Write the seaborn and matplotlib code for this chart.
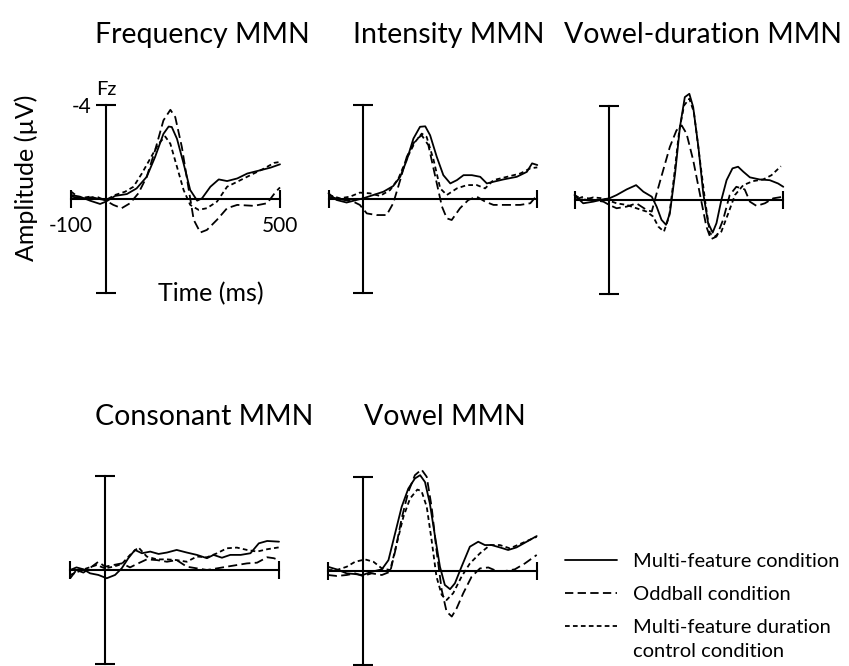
import numpy as np
import pandas as pd
import matplotlib
matplotlib.use("Agg")
import matplotlib.pyplot as plt
from matplotlib.lines import Line2D
import seaborn as sns

# ---------------------------------------------------------------------------
# Grand-average ERPs at Fz (amplitude in microvolts, time in ms)
# ---------------------------------------------------------------------------
CONDITIONS = ["Multi-feature condition", "Oddball condition",
              "Multi-feature duration control condition"]

# Frequency MMN
FREQ_T_MF = [-100, -75, -46, -17, 0, 26, 60, 88, 117, 141, 165, 180, 189, 204, 223, 242, 262, 276, 300, 324, 348, 377, 406, 444, 473, 500]
FREQ_V_MF = [-0.17, -0.10, 0.07, 0.21, 0.11, -0.13, -0.21, -0.45, -0.94, -1.78, -2.76, -3.07, -3.05, -2.55, -1.50, -0.38, 0.07, -0.03, -0.52, -0.83, -0.76, -0.87, -1.08, -1.22, -1.33, -1.47]
FREQ_T_OB = [-100, -65, -27, 0, 21, 45, 69, 93, 117, 141, 165, 185, 199, 218, 238, 252, 271, 290, 319, 348, 377, 425, 463, 488, 500]
FREQ_V_OB = [-0.10, -0.03, -0.10, 0.07, 0.25, 0.39, 0.18, -0.24, -0.94, -2.06, -3.33, -3.78, -3.47, -2.20, -0.38, 0.88, 1.42, 1.31, 0.88, 0.39, 0.25, 0.29, 0.18, -0.31, -0.49]
FREQ_T_DC = [-100, -75, -46, -17, 0, 26, 55, 79, 103, 127, 151, 170, 185, 204, 223, 242, 266, 290, 319, 348, 377, 415, 454, 483, 500]
FREQ_V_DC = [-0.31, -0.03, -0.10, 0.01, 0.04, -0.17, -0.31, -0.52, -1.08, -1.71, -2.34, -2.65, -2.34, -1.36, -0.38, 0.25, 0.46, 0.39, 0.11, -0.52, -0.73, -1.01, -1.29, -1.53, -1.57]

# Intensity MMN
INT_T_MF = [-100, -77, -48, -19, 0, 29, 58, 86, 106, 125, 144, 163, 178, 192, 211, 230, 250, 269, 288, 312, 336, 355, 374, 403, 441, 470, 485, 500]
INT_V_MF = [-0.24, 0.04, 0.15, 0.04, -0.03, -0.17, -0.31, -0.55, -0.94, -1.65, -2.56, -3.06, -3.08, -2.70, -1.79, -1.01, -0.66, -0.80, -1.01, -1.01, -0.94, -0.66, -0.73, -0.83, -0.94, -1.15, -1.51, -1.44]
INT_T_OB = [-100, -67, -29, -10, 10, 38, 67, 86, 106, 125, 149, 168, 187, 207, 226, 240, 254, 278, 302, 326, 350, 374, 413, 451, 480, 500]
INT_V_OB = [-0.10, 0.01, 0.11, 0.25, 0.61, 0.68, 0.68, 0.18, -0.80, -1.79, -2.49, -2.70, -2.28, -0.94, 0.32, 0.82, 0.89, 0.39, 0.04, -0.10, 0.11, 0.25, 0.25, 0.25, 0.18, -0.17]
INT_T_DC = [-100, -67, -38, -10, 19, 48, 77, 101, 125, 149, 168, 182, 202, 221, 240, 269, 298, 326, 350, 374, 413, 451, 480, 500]
INT_V_DC = [-0.17, -0.03, -0.10, -0.27, -0.24, -0.13, -0.38, -0.87, -1.72, -2.42, -2.77, -2.63, -1.65, -0.45, -0.17, -0.45, -0.59, -0.59, -0.45, -0.80, -0.94, -1.08, -1.30, -1.34]

# Vowel-duration MMN
DUR_T_MF = [-100, -75, -46, -17, 0, 21, 50, 77, 98, 122, 136, 150, 163, 174, 189, 203, 217, 230, 241, 256, 270, 284, 297, 308, 322, 337, 354, 370, 385, 404, 432, 461, 485, 500]
DUR_V_MF = [-0.21, 0.14, 0.07, -0.03, -0.07, -0.21, -0.45, -0.63, -0.35, -0.14, 0.28, 0.84, 1.05, 0.56, -1.12, -3.09, -4.36, -4.50, -3.94, -2.25, -0.28, 0.98, 1.38, 0.98, 0.00, -0.84, -1.34, -1.41, -1.20, -0.96, -0.87, -0.84, -0.70, -0.56]
DUR_T_OB = [-100, -75, -46, -17, 0, 21, 50, 78, 107, 122, 136, 155, 174, 193, 208, 222, 241, 260, 279, 292, 308, 327, 346, 365, 389, 404, 423, 447, 471, 500]
DUR_V_OB = [0.00, -0.14, 0.00, 0.07, 0.21, 0.35, 0.28, 0.14, 0.42, 0.49, -0.28, -1.27, -2.25, -2.95, -3.16, -2.81, -1.69, -0.28, 1.13, 1.66, 1.55, 0.84, -0.21, -0.56, -0.45, 0.07, 0.25, 0.14, -0.07, -0.14]
DUR_T_DC = [-100, -75, -46, -17, 0, 21, 50, 78, 107, 126, 141, 157, 172, 186, 201, 215, 230, 243, 258, 275, 289, 303, 322, 342, 361, 385, 413, 442, 466, 493]
DUR_V_DC = [-0.21, 0.00, -0.11, -0.07, 0.03, 0.14, 0.21, 0.35, 0.49, 0.70, 1.13, 1.34, 0.70, -0.98, -2.95, -4.01, -4.29, -3.73, -1.97, 0.00, 1.41, 1.55, 1.34, 0.56, -0.21, -0.63, -0.80, -0.87, -1.05, -1.43]

# Consonant MMN
CON_T_MF = [-100, -82, -62, -43, -19, 5, 29, 48, 67, 86, 106, 130, 154, 178, 206, 235, 264, 293, 312, 336, 360, 390, 418, 442, 466, 500]
CON_V_MF = [0.00, -0.11, -0.03, 0.14, 0.21, 0.35, 0.21, -0.07, -0.50, -0.85, -0.71, -0.78, -0.68, -0.74, -0.85, -0.74, -0.64, -0.50, -0.64, -0.52, -0.64, -0.64, -0.71, -1.13, -1.23, -1.20]
CON_T_OB = [-100, -82, -62, -38, -19, 0, 24, 48, 72, 91, 120, 149, 178, 206, 235, 264, 293, 322, 350, 379, 408, 437, 466, 485, 500]
CON_V_OB = [0.35, 0.00, 0.11, -0.14, -0.35, -0.14, -0.21, -0.28, -0.11, -0.25, -0.45, -0.42, -0.35, -0.42, -0.14, -0.07, 0.00, -0.07, -0.14, -0.21, -0.28, -0.31, -0.54, -0.50, -0.42]
CON_T_DC = [-100, -77, -53, -24, 0, 24, 48, 72, 96, 120, 149, 178, 206, 235, 264, 293, 322, 350, 379, 408, 437, 466, 500]
CON_V_DC = [0.21, 0.07, -0.07, -0.21, -0.07, -0.14, -0.25, -0.64, -0.96, -0.57, -0.45, -0.45, -0.42, -0.35, -0.57, -0.54, -0.71, -0.92, -0.95, -0.85, -0.78, -0.88, -0.96]

# Vowel MMN
VOW_T_MF = [-100, -75, -46, -22, 0, 26, 55, 74, 93, 112, 131, 150, 165, 179, 193, 208, 222, 236, 251, 265, 284, 308, 332, 351, 370, 394, 418, 442, 471, 500]
VOW_V_MF = [-0.18, -0.07, 0.10, 0.13, 0.17, 0.03, -0.07, -0.46, -1.59, -2.72, -3.49, -3.92, -4.06, -3.77, -2.86, -1.45, -0.18, 0.59, 0.77, 0.52, -0.18, -1.03, -1.24, -1.10, -1.10, -1.00, -0.89, -1.00, -1.24, -1.48]
VOW_T_OB = [-100, -75, -46, -22, 0, 26, 55, 79, 93, 112, 131, 150, 169, 184, 198, 212, 227, 241, 256, 270, 289, 313, 337, 361, 385, 409, 437, 466, 500]
VOW_V_OB = [0.17, 0.21, 0.17, 0.10, 0.21, 0.10, 0.17, 0.03, -0.82, -2.23, -3.35, -4.06, -4.30, -3.99, -2.72, -0.89, 0.80, 1.72, 1.93, 1.58, 0.94, 0.24, -0.11, -0.15, 0.00, 0.00, -0.07, -0.32, -0.68]
VOW_T_DC = [-100, -75, -46, -22, 7, 31, 55, 79, 98, 117, 136, 157, 169, 184, 198, 212, 227, 241, 260, 284, 308, 337, 366, 394, 423, 461, 500]
VOW_V_DC = [-0.04, -0.04, -0.18, -0.39, -0.49, -0.39, -0.11, -0.04, -1.17, -2.30, -3.07, -3.45, -3.39, -2.72, -1.31, 0.24, 1.01, 1.23, 0.94, 0.24, -0.32, -0.75, -1.10, -1.10, -0.96, -1.20, -1.45]

PANELS = {
    "Frequency MMN": [(FREQ_T_MF, FREQ_V_MF), (FREQ_T_OB, FREQ_V_OB), (FREQ_T_DC, FREQ_V_DC)],
    "Intensity MMN": [(INT_T_MF, INT_V_MF), (INT_T_OB, INT_V_OB), (INT_T_DC, INT_V_DC)],
    "Vowel-duration MMN": [(DUR_T_MF, DUR_V_MF), (DUR_T_OB, DUR_V_OB), (DUR_T_DC, DUR_V_DC)],
    "Consonant MMN": [(CON_T_MF, CON_V_MF), (CON_T_OB, CON_V_OB), (CON_T_DC, CON_V_DC)],
    "Vowel MMN": [(VOW_T_MF, VOW_V_MF), (VOW_T_OB, VOW_V_OB), (VOW_T_DC, VOW_V_DC)],
}

# ---------------------------------------------------------------------------
# Style
# ---------------------------------------------------------------------------
sns.set_style("ticks", {"axes.edgecolor": "black", "xtick.color": "black",
                        "ytick.color": "black", "text.color": "black"})
plt.rcParams["font.family"] = ["Lato", "DejaVu Sans"]

W, H = 849, 666
fig = plt.figure(figsize=(W / 100, H / 100), dpi=100)
fig.patch.set_facecolor("white")

LW = 1.3
DASHES = {CONDITIONS[0]: "", CONDITIONS[1]: (5, 2.4), CONDITIONS[2]: (2.6, 1.8)}

# pixel scale of every panel
MS_PX = 0.348
UV_PX = 23.6
XLIM = (-130, 530)
YLIM = (5, -5)   # negative up

# zero-point (t = 0 ms, 0 uV) of each panel, in figure pixels from top-left
ORIGINS = {
    "Frequency MMN": (106, 199),
    "Intensity MMN": (363.3, 199),
    "Vowel-duration MMN": (609.3, 200),
    "Consonant MMN": (105, 570),
    "Vowel MMN": (362.7, 571),
}
TITLE_POS = {
    "Frequency MMN": (202, 35),
    "Intensity MMN": (449, 35),
    "Vowel-duration MMN": (703, 35),
    "Consonant MMN": (204, 417),
    "Vowel MMN": (445, 417),
}


def fx(x):
    return x / W


def fy(y):
    return 1 - y / H


axes = {}
for name, curves in PANELS.items():
    x0, y0 = ORIGINS[name]
    left = x0 + XLIM[0] * MS_PX
    width = (XLIM[1] - XLIM[0]) * MS_PX
    top = y0 - YLIM[0] * UV_PX
    height = (YLIM[0] - YLIM[1]) * UV_PX
    ax = fig.add_axes([fx(left), fy(top + height), width / W, height / H])
    ax.patch.set_alpha(0)

    frames = []
    for cond, (t, v) in zip(CONDITIONS, curves):
        frames.append(pd.DataFrame({"time": t, "amp": v, "condition": cond}))
    df = pd.concat(frames, ignore_index=True)

    sns.lineplot(data=df, x="time", y="amp", style="condition",
                 style_order=CONDITIONS, dashes=DASHES, color="black",
                 linewidth=LW, estimator=None, sort=False, legend=False, ax=ax)

    ax.set_xlim(*XLIM)
    ax.set_ylim(*YLIM)
    ax.set_xlabel("")
    ax.set_ylabel("")
    for s in ("top", "right"):
        ax.spines[s].set_visible(False)
    ax.spines["left"].set_position(("data", 0))
    ax.spines["left"].set_bounds(-4, 4)
    ax.spines["bottom"].set_position(("data", 0))
    ax.spines["bottom"].set_bounds(-100, 500)
    for s in ("left", "bottom"):
        ax.spines[s].set_linewidth(1.5)
    ax.set_xticks([-100, 500])
    ax.set_yticks([-4, 4])
    ax.tick_params(axis="x", direction="inout", length=13, width=1.5,
                   labelsize=15, pad=6)
    ax.tick_params(axis="y", direction="inout", length=15, width=1.5,
                   labelsize=15, pad=3)
    if name == "Frequency MMN":
        ax.set_xticklabels(["-100", "500"])
        ax.set_yticklabels(["-4", ""])
    else:
        ax.set_xticklabels(["", ""])
        ax.set_yticklabels(["", ""])
    axes[name] = ax

    tx, ty = TITLE_POS[name]
    fig.text(fx(tx), fy(ty), name, ha="center", va="center", fontsize=20.5)

# axis annotations on the first panel
ax0 = axes["Frequency MMN"]
ax0.annotate("Fz", xy=(0, -4), xytext=(0, 5), textcoords="offset points",
             ha="center", va="bottom", fontsize=14.5)
ax0.text(300, 4, "Time (ms)", ha="center", va="center", fontsize=18)
fig.text(fx(26), fy(178), "Amplitude (µV)", rotation=90, ha="center",
         va="center", fontsize=18)

# legend
handles = [
    Line2D([], [], color="black", lw=LW, linestyle="-"),
    Line2D([], [], color="black", lw=LW, dashes=(4.6, 2.4)),
    Line2D([], [], color="black", lw=LW, dashes=DASHES[CONDITIONS[2]]),
]
labels = ["Multi-feature condition", "Oddball condition", "Multi-feature duration"]
leg = fig.legend(handles, labels, loc="upper left",
                 bbox_to_anchor=(fx(565), fy(553)), frameon=False,
                 fontsize=14.5, handlelength=2.6, handletextpad=0.8,
                 labelspacing=0.78, borderpad=0, borderaxespad=0)
fig.canvas.draw()
bb = leg.get_texts()[2].get_window_extent()
fig.text(bb.x0 / W, (bb.y0 - 24) / H, "control condition", ha="left",
         va="bottom", fontsize=14.5)

fig.savefig("out.png", dpi=100, facecolor="white")
